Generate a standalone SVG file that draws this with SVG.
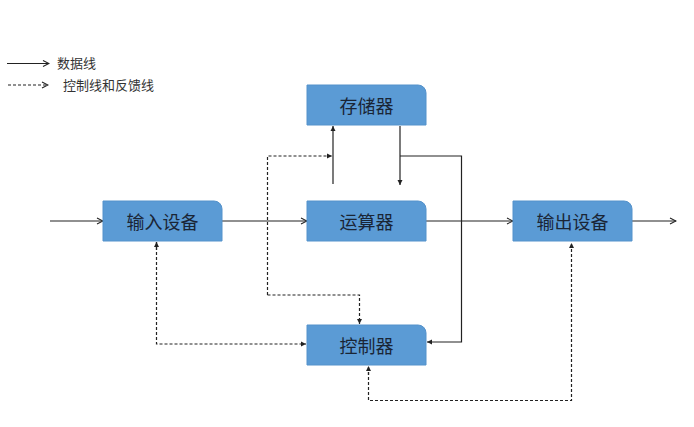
<svg xmlns="http://www.w3.org/2000/svg" width="694" height="427" viewBox="0 0 694 427">
<style>
.box{fill:#5B9BD5;stroke:#5592CB;stroke-width:1}
.lbl{font-family:"Noto Sans CJK SC",sans-serif;font-size:18px;fill:#1A2535;text-anchor:middle;dominant-baseline:central}
.leg{font-family:"Noto Sans CJK SC",sans-serif;font-size:13px;fill:#333}
.s{fill:none;stroke:#222;stroke-width:1.2}
.d{fill:none;stroke:#222;stroke-width:1.2;stroke-dasharray:3 2}
</style>
<defs>
<marker id="ah" markerWidth="8" markerHeight="8" refX="7" refY="4" orient="auto" markerUnits="userSpaceOnUse">
<path d="M1,1 L7,4 L1,7" fill="none" stroke="#222" stroke-width="1.1"/>
</marker>
<marker id="ahf" markerWidth="6" markerHeight="6" refX="5" refY="3" orient="auto" markerUnits="userSpaceOnUse">
<path d="M0,0.5 L5,3 L0,5.5 z" fill="#222"/>
</marker>
</defs>
<rect width="694" height="427" fill="#ffffff"/>
<g id="legend">
<line class="s" x1="7" y1="63.5" x2="49" y2="63.5" marker-end="url(#ah)"/>
<text class="leg" x="57" y="68">数据线</text>
<line class="d" x1="8" y1="85" x2="48" y2="85" marker-end="url(#ah)"/>
<text class="leg" x="63" y="90">控制线和反馈线</text>
</g>
<g id="connectors">
<line class="s" x1="50" y1="221" x2="103" y2="221" marker-end="url(#ah)"/>
<line class="s" x1="222" y1="221" x2="307" y2="221" marker-end="url(#ah)"/>
<line class="s" x1="426" y1="221" x2="513" y2="221" marker-end="url(#ah)"/>
<line class="s" x1="632" y1="221" x2="676" y2="221" marker-end="url(#ah)"/>
<line class="s" x1="333" y1="184" x2="333" y2="126" marker-end="url(#ahf)"/>
<line class="s" x1="400" y1="126" x2="400" y2="185" marker-end="url(#ahf)"/>
<polyline class="s" points="400,156 461.5,156 461.5,342 427,342" marker-end="url(#ahf)"/>
<polyline class="d" points="267.5,295 267.5,156 332,156" marker-end="url(#ahf)"/>
<polyline class="d" points="267.5,295 359.5,295 359.5,324" marker-end="url(#ahf)"/>
<polyline class="d" points="156.5,242 156.5,344 306,344" marker-end="url(#ahf)"/>
<line class="d" x1="156.5" y1="250" x2="156.5" y2="242" marker-end="url(#ahf)"/>
<polyline class="d" points="368.5,372 368.5,400.5 571.5,400.5 571.5,243" marker-end="url(#ahf)"/>
<line class="d" x1="368.5" y1="375" x2="368.5" y2="366" marker-end="url(#ahf)"/>
</g>
<g id="storage">
<path class="box" d="M307,85 H418 A8,8 0 0 1 426,93 V125 H307 Z"/>
<text class="lbl" x="366.5" y="105">存储器</text>
</g>
<g id="input">
<path class="box" d="M103,201 H214 A8,8 0 0 1 222,209 V241 H103 Z"/>
<text class="lbl" x="162.5" y="221">输入设备</text>
</g>
<g id="alu">
<path class="box" d="M307,201 H418 A8,8 0 0 1 426,209 V241 H307 Z"/>
<text class="lbl" x="366.5" y="221">运算器</text>
</g>
<g id="output">
<path class="box" d="M513,201 H624 A8,8 0 0 1 632,209 V241 H513 Z"/>
<text class="lbl" x="572.5" y="221">输出设备</text>
</g>
<g id="controller">
<path class="box" d="M307,325 H418 A8,8 0 0 1 426,333 V365 H307 Z"/>
<text class="lbl" x="366.5" y="345">控制器</text>
</g>
</svg>
